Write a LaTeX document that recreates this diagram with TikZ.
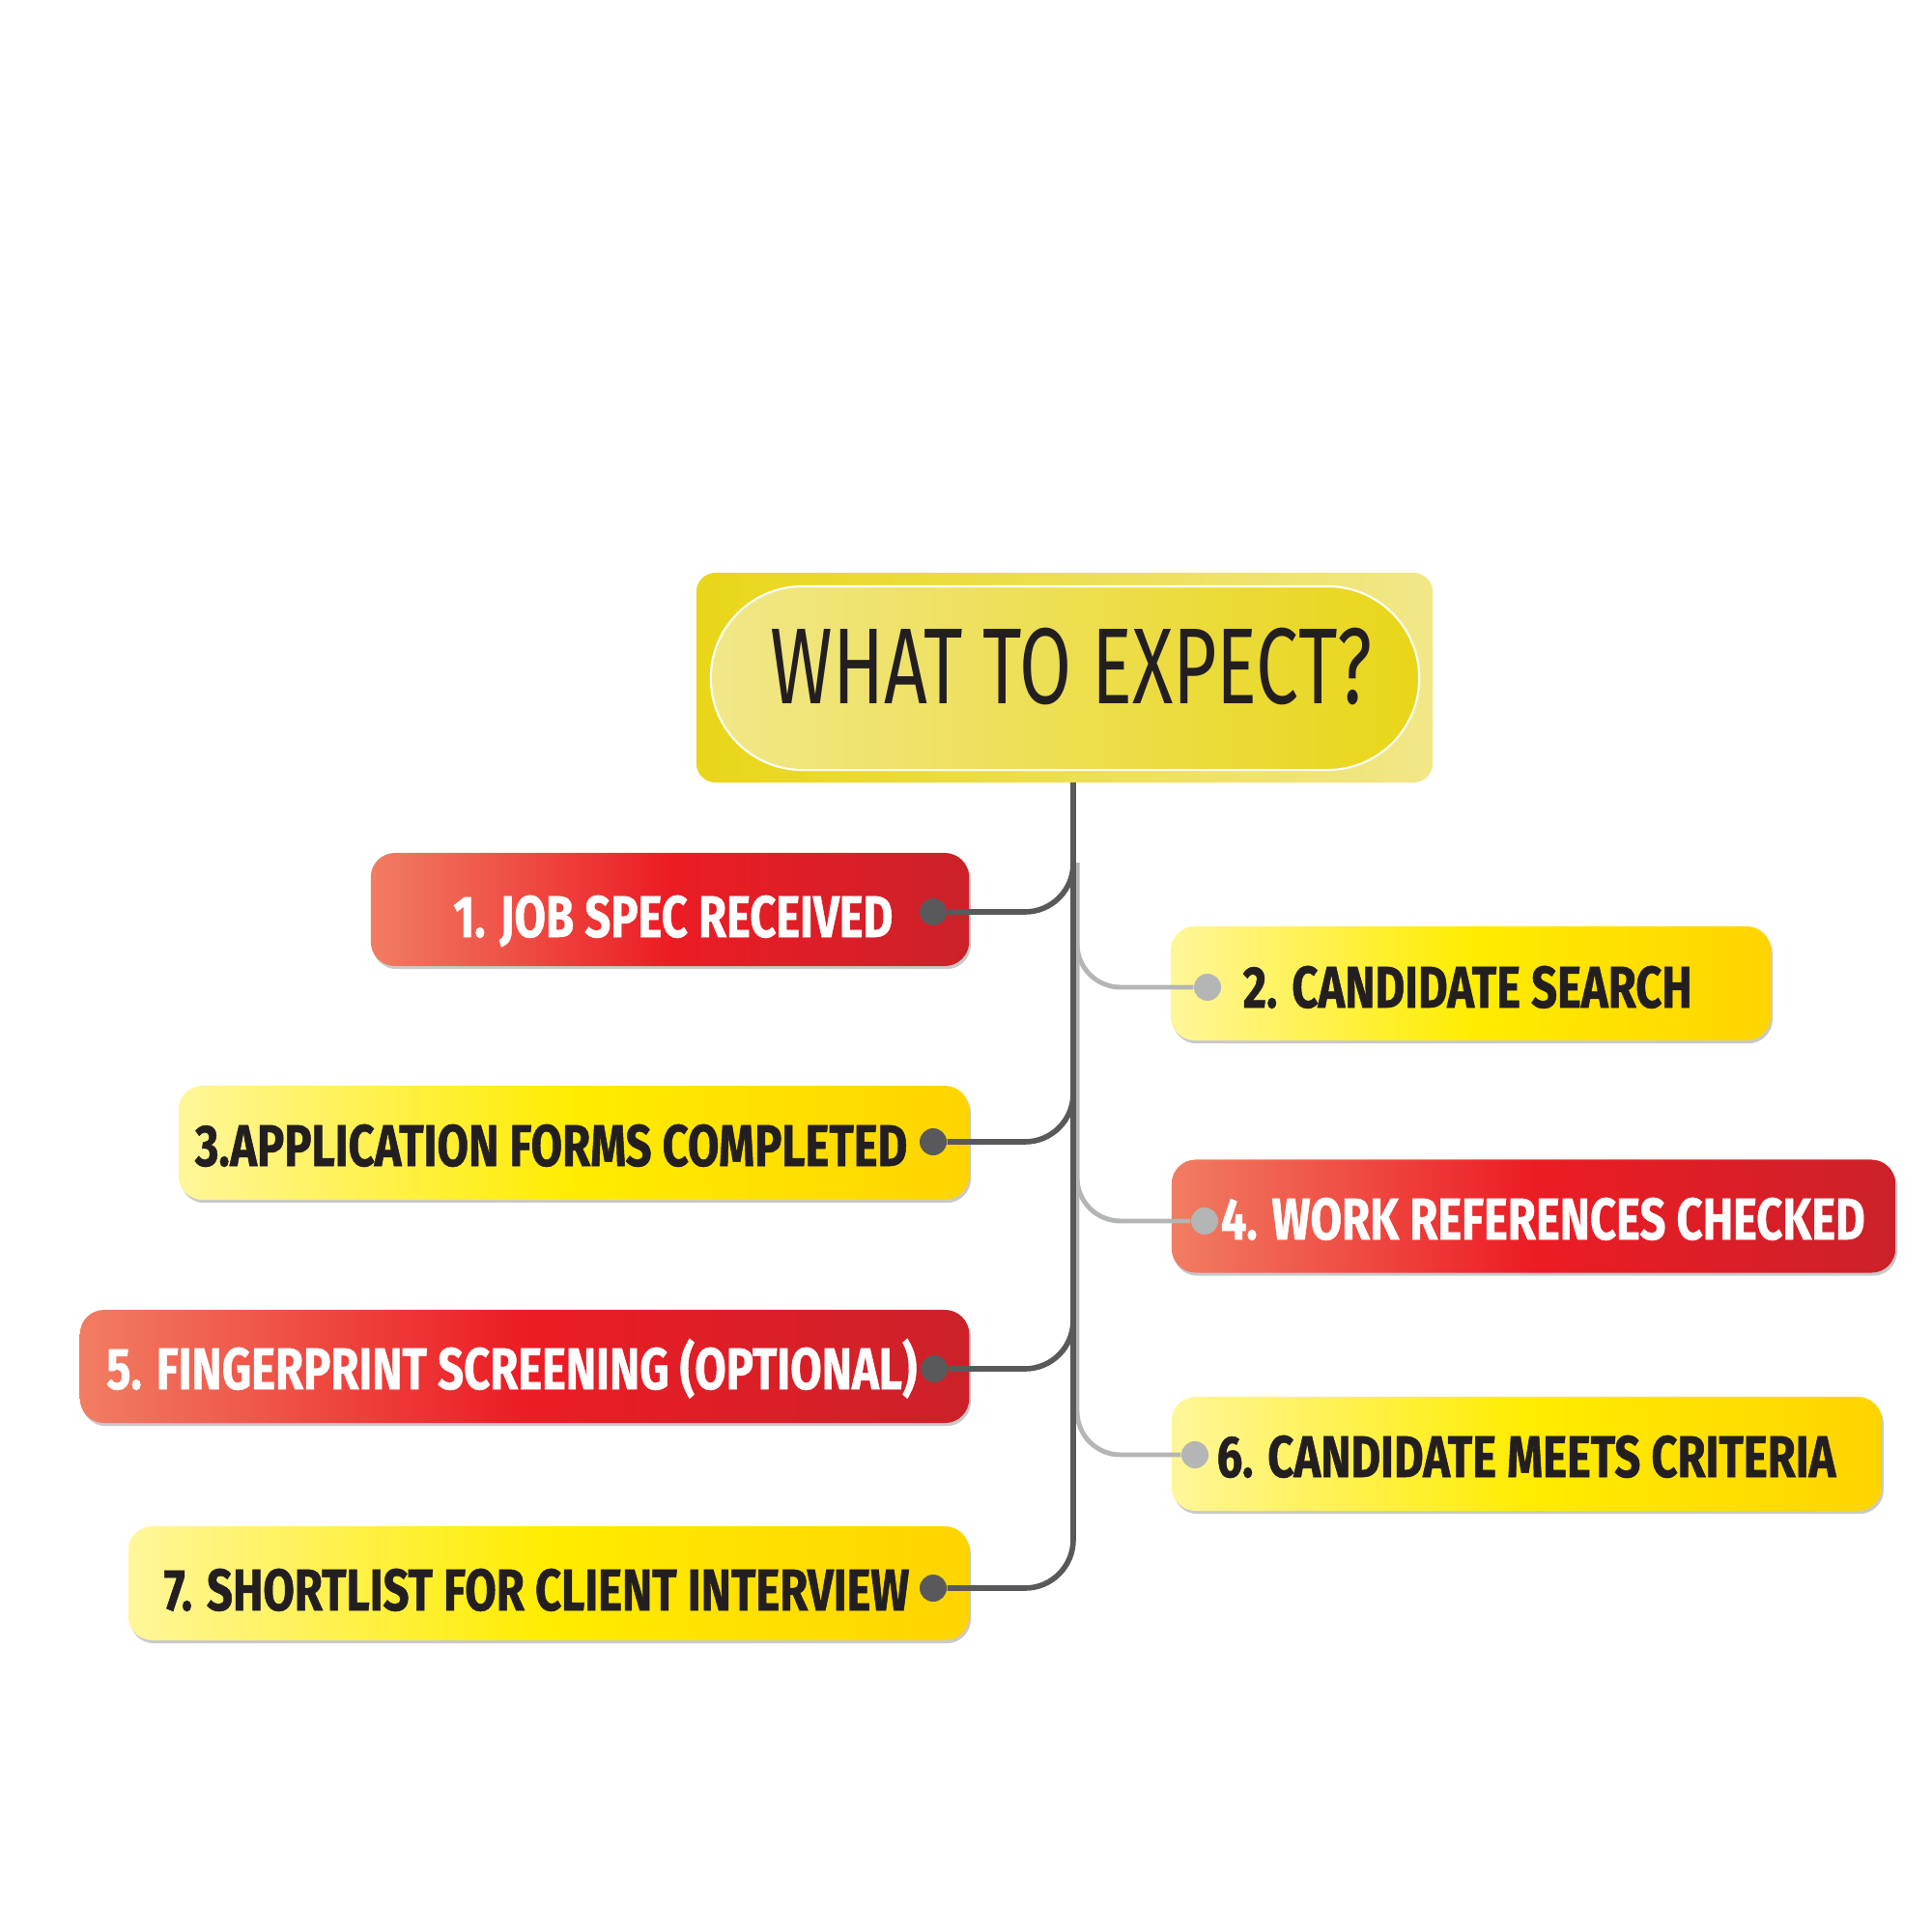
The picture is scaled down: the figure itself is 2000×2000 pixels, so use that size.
\documentclass[tikz,border=0pt]{standalone}
\usepackage{fontspec}
\usetikzlibrary{shadows}
\newfontfamily\stepfont[FakeStretch=0.775,FakeBold=0.8]{Fira Sans}
\newfontfamily\headfont[FakeStretch=0.70]{Fira Sans}
\definecolor{redL}{HTML}{F17D62}
\definecolor{redM}{HTML}{EC1C24}
\definecolor{redR}{HTML}{CC212A}
\definecolor{yelL}{HTML}{FFF69A}
\definecolor{yelM}{HTML}{FFEC00}
\definecolor{yelR}{HTML}{FFD400}
\definecolor{headD}{HTML}{E9D619}
\definecolor{headL}{HTML}{F1E788}
\definecolor{wire}{HTML}{59595B}
\definecolor{wirelt}{HTML}{B4B5B5}
\definecolor{ink}{HTML}{231F20}
\tikzset{
  stepshadow/.style={drop shadow={shadow xshift=0.5pt, shadow yshift=-0.9pt, opacity=0.3, fill=black!70}},
  redbox/.style={rounded corners=0.25cm, stepshadow, left color=redL, right color=redR, middle color=redM, minimum height=1.17cm},
  yelbox/.style={rounded corners=0.25cm, stepshadow, left color=yelL, right color=yelR, middle color=yelM, minimum height=1.18cm},
  steptext/.style={font=\stepfont\bfseries\fontsize{17.3}{20}\selectfont, inner sep=0pt},
  redtext/.style={steptext, text=white},
  yeltext/.style={steptext, text=ink},
  dot/.style={circle, inner sep=0pt, minimum size=0.28cm},
  wireline/.style={draw=wire, line width=1.6pt, rounded corners=0.5cm},
  wireltline/.style={draw=wirelt, line width=1.4pt, rounded corners=0.45cm}
}
\begin{document}
\begin{tikzpicture}[x=0.01cm, y=-0.01cm]
  \useasboundingbox (0,0) rectangle (2000,2000);

  % heading
  \node[rounded corners=0.2cm, left color=headD, right color=headL, minimum width=7.62cm, minimum height=2.17cm] (title) at (1102,701.5) {};
  \node[rounded corners=0.95cm, draw=white, line width=0.6pt, left color=headL, right color=headD, minimum width=7.33cm, minimum height=1.9cm] (pill) at (1102.5,702) {};
  \node[font=\headfont\fontsize{31.8}{36}\selectfont, text=ink, inner sep=0pt, anchor=base] (head) at (1109,728) {WHAT TO EXPECT?};

  % steps, left side
  \node[redbox, minimum width=6.19cm] (s1) at (693.5,941.5) {};
  \node[yelbox, minimum width=8.18cm] (s3) at (594,1183) {};
  \node[redbox, minimum width=9.2cm] (s5) at (543,1414.5) {};
  \node[yelbox, minimum width=8.7cm] (s7) at (568,1639) {};
  % steps, right side
  \node[yelbox, minimum width=6.21cm] (s2) at (1522.5,1018) {};
  \node[redbox, minimum width=7.49cm] (s4) at (1587.5,1259) {};
  \node[yelbox, minimum width=7.35cm] (s6) at (1580.5,1505) {};

  \node[redtext, anchor=base east] (t1) at (925,970) {1. JOB SPEC RECEIVED};
  \node[yeltext, anchor=base west] (t2) at (1286,1043) {2. CANDIDATE SEARCH};
  \node[yeltext, anchor=base east] (t3) at (940,1207) {3.APPLICATION FORMS COMPLETED};
  \node[redtext, anchor=base west] (t4) at (1263,1283) {4. WORK REFERENCES CHECKED};
  \node[redtext, anchor=base east] (t5) at (950,1438) {5. FINGERPRINT SCREENING (OPTIONAL)};
  \node[yeltext, anchor=base west] (t6) at (1259,1529) {6. CANDIDATE MEETS CRITERIA};
  \node[yeltext, anchor=base east] (t7) at (942,1667) {7. SHORTLIST FOR CLIENT INTERVIEW};

  % dots
  \node[dot, fill=wire] (d1) at (966,944) {};
  \node[dot, fill=wirelt] (d2) at (1250,1022) {};
  \node[dot, fill=wire] (d3) at (966,1182) {};
  \node[dot, fill=wirelt] (d4) at (1247,1264) {};
  \node[dot, fill=wire] (d5) at (967,1417) {};
  \node[dot, fill=wirelt] (d6) at (1237,1506) {};
  \node[dot, fill=wire] (d7) at (966,1644) {};

  % connectors
  \coordinate (root) at (1111,810);
  \coordinate (fork) at (1115,893);
  \draw[wireltline] (fork) |- (d2);
  \draw[wireltline] (fork) |- (d4);
  \draw[wireltline] (fork) |- (d6);
  \draw[wireline] (root) |- (d1);
  \draw[wireline] (root) |- (d3);
  \draw[wireline] (root) |- (d5);
  \draw[wireline] (root) |- (d7);
\end{tikzpicture}
\end{document}
